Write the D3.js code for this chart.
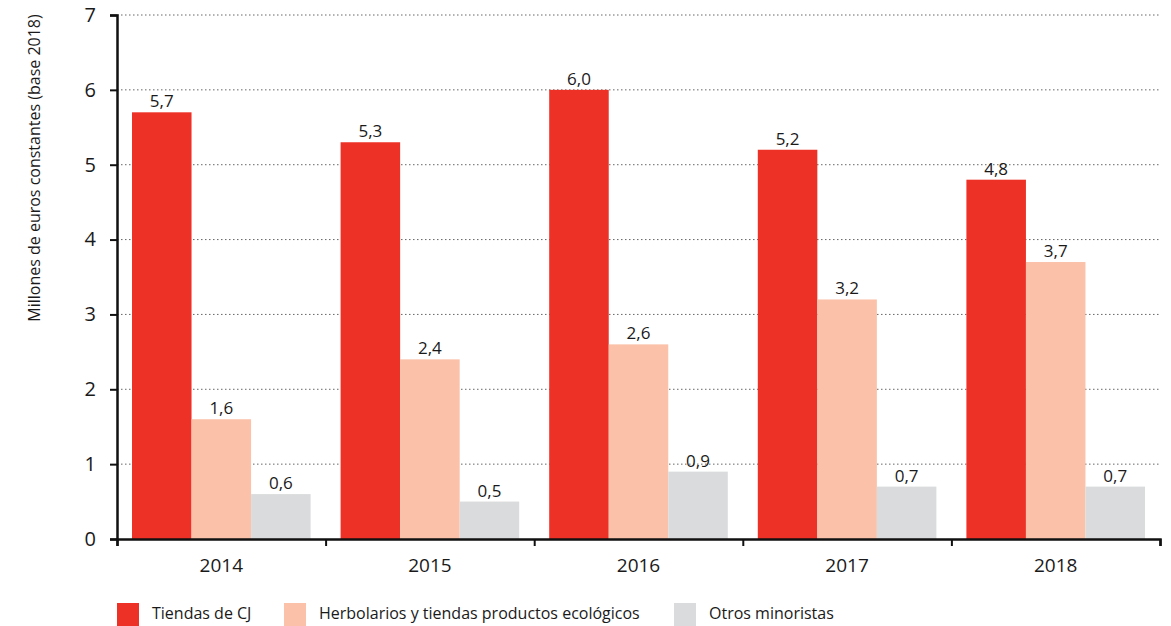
<!DOCTYPE html>
<html>
<head>
<meta charset="utf-8">
<script src="https://cdn.jsdelivr.net/npm/d3@7"></script>
<style>
  html, body { margin: 0; padding: 0; background: #fff; }
  svg { display: block; font-family: "Open Sans", "Noto Sans", sans-serif; }
</style>
</head>
<body>
<svg id="chart" width="1171" height="626"></svg>
<script>
// Ventas por canal de distribución, millones de euros constantes (base 2018)
const years = ["2014", "2015", "2016", "2017", "2018"];
const seriesNames = ["Tiendas de CJ", "Herbolarios y tiendas productos ecológicos", "Otros minoristas"];
const tiendasCJ = [5.7, 5.3, 6.0, 5.2, 4.8];
const herbolarios = [1.6, 2.4, 2.6, 3.2, 3.7];
const otros = [0.6, 0.5, 0.9, 0.7, 0.7];
const yTicks = [0, 1, 2, 3, 4, 5, 6, 7];
const colors = ["#ee3126", "#fbc1a9", "#dadbdc"];

const seriesValues = [tiendasCJ, herbolarios, otros];
const fmt = v => d3.format(".1f")(v).replace(".", ",");

const svg = d3.select("#chart");
const plotLeft = 117, plotRight = 1160, plotTop = 15, plotBottom = 539;

const y = d3.scaleLinear().domain([0, 7]).range([plotBottom, plotTop]);
const x0 = d3.scaleBand().domain(years).range([plotLeft, plotRight]).padding(0);
const x1 = d3.scaleBand().domain(d3.range(seriesNames.length))
  .range([15, x0.bandwidth() - 15]).padding(0);

// dotted gridlines
svg.append("g")
  .selectAll("line")
  .data(yTicks.filter(t => t > 0))
  .join("line")
  .attr("x1", plotLeft).attr("x2", plotRight)
  .attr("y1", d => y(d)).attr("y2", d => y(d))
  .attr("stroke", "#666")
  .attr("stroke-width", 1)
  .attr("stroke-dasharray", "1.5,2.5");

// bars
const groups = svg.append("g")
  .selectAll("g")
  .data(years)
  .join("g")
  .attr("transform", d => `translate(${x0(d)},0)`);

groups.each(function(year, i) {
  const g = d3.select(this);
  seriesValues.forEach((vals, s) => {
    g.append("rect")
      .attr("x", x1(s))
      .attr("y", y(vals[i]))
      .attr("width", x1.bandwidth())
      .attr("height", y(0) - y(vals[i]))
      .attr("fill", colors[s]);
    g.append("text")
      .attr("x", x1(s) + x1.bandwidth() / 2)
      .attr("y", y(vals[i]) - 5)
      .attr("text-anchor", "middle")
      .attr("font-size", 17)
      .attr("fill", "#1a1a1a")
      .text(fmt(vals[i]));
  });
});

// y axis
const yAxis = svg.append("g")
  .attr("transform", `translate(${plotLeft},0)`)
  .call(d3.axisLeft(y).tickValues(yTicks).tickSize(7).tickPadding(14).tickFormat(d3.format("d")));
yAxis.select(".domain").attr("stroke", "#111").attr("stroke-width", 2.5);
yAxis.selectAll(".tick line").attr("stroke", "#111").attr("stroke-width", 2);
yAxis.selectAll(".tick text")
  .attr("font-size", 20)
  .attr("fill", "#1a1a1a")
  .attr("font-family", "Open Sans, sans-serif");

// x axis
const xAxisScale = d3.scalePoint().domain(d3.range(years.length + 1)).range([plotLeft, plotRight]);
const xAxis = svg.append("g")
  .attr("transform", `translate(0,${plotBottom})`)
  .call(d3.axisBottom(xAxisScale).tickSize(7).tickFormat(""));
xAxis.select(".domain").attr("stroke", "#111").attr("stroke-width", 2.5);
xAxis.selectAll(".tick line").attr("stroke", "#111").attr("stroke-width", 2);

svg.append("g")
  .selectAll("text")
  .data(years)
  .join("text")
  .attr("x", d => x0(d) + x0.bandwidth() / 2)
  .attr("y", 572)
  .attr("text-anchor", "middle")
  .attr("font-size", 19)
  .attr("fill", "#1a1a1a")
  .text(d => d);

// y axis title
svg.append("text")
  .attr("transform", "translate(40,168) rotate(-90)")
  .attr("text-anchor", "middle")
  .attr("font-size", 16)
  .attr("fill", "#1a1a1a")
  .text("Millones de euros constantes (base 2018)");

// legend
const legendX = [117, 284, 674];
const legend = svg.append("g")
  .selectAll("g")
  .data(seriesNames)
  .join("g")
  .attr("transform", (d, i) => `translate(${legendX[i]},603)`);
legend.append("rect")
  .attr("width", 22).attr("height", 23)
  .attr("fill", (d, i) => colors[i]);
legend.append("text")
  .attr("x", 35).attr("y", 16)
  .attr("font-size", 16)
  .attr("fill", "#1a1a1a")
  .text(d => d);
</script>
</body>
</html>
